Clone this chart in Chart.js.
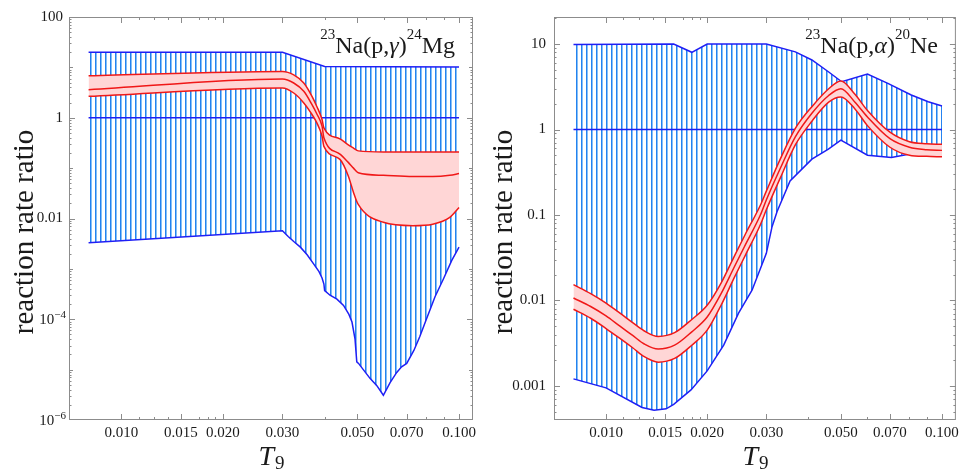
<!DOCTYPE html>
<html>
<head>
<meta charset="utf-8">
<script src="https://cdn.jsdelivr.net/npm/chart.js@4.4.1/dist/chart.umd.min.js"></script>
<style>
  html, body { margin: 0; padding: 0; background: #fff; }
  body { width: 963px; height: 470px; position: relative; overflow: hidden; }
  .panel { position: absolute; top: 0; height: 470px; }
</style>
</head>
<body>
<div class="panel" style="left:0;width:481px"><canvas id="pgChart" width="481" height="470"></canvas></div>
<div class="panel" style="left:481px;width:482px"><canvas id="paChart" width="482" height="470"></canvas></div>
<script>
// ---- 23Na(p,gamma)24Mg (left panel) ----
const pgHatchHiT = [0.008, 0.03, 0.04, 0.1];
const pgHatchHi  = [20, 20, 10.4, 10.2];
const pgHatchLoT = [0.008, 0.03, 0.0312, 0.0324, 0.0339, 0.0355, 0.0371, 0.0385, 0.0393, 0.0398, 0.04,
                    0.0415, 0.0435, 0.0455, 0.0472, 0.0482, 0.0492, 0.0498, 0.0504,
                    0.0545, 0.0571, 0.0597, 0.0625, 0.0654, 0.0676, 0.070, 0.0735, 0.0765, 0.0802,
                    0.0825, 0.0849, 0.0899, 0.0951, 0.1];
const pgHatchLo  = [0.0033, 0.0057, 0.0044, 0.0035, 0.0027, 0.0019, 0.00126, 0.00088, 0.00066, 0.0005, 0.00037,
                    0.0003, 0.00025, 0.000188, 0.000125, 0.000088, 0.000041, 0.0000143, 0.0000133,
                    0.0000067, 0.0000048, 0.0000031, 0.0000055, 0.0000088, 0.0000114, 0.0000133, 0.000024, 0.000045, 0.000103,
                    0.00017, 0.00028, 0.00063, 0.00146, 0.0027];
const pgBandT    = [0.008, 0.03, 0.0324, 0.0347, 0.0367, 0.0379, 0.0393, 0.0398, 0.0444, 0.047, 0.0487, 0.0503,
                    0.0597, 0.073, 0.0836, 0.0939, 0.1];
const pgBandHi   = [6.8, 8.3, 7.1, 4.9, 2.66, 1.69, 0.92, 0.63, 0.38, 0.29, 0.25, 0.22, 0.21, 0.21, 0.21, 0.21, 0.21];
const pgBandMid  = [3.6, 5.9, 4.9, 3.35, 1.82, 1.2, 0.68, 0.40, 0.19, 0.13, 0.10, 0.081, 0.072, 0.068, 0.068, 0.072, 0.078];
const pgBandLo   = [2.66, 3.9, 3.1, 1.97, 1.16, 0.8, 0.43, 0.27, 0.149, 0.07, 0.033, 0.019, 0.0084, 0.0072, 0.0077, 0.0105, 0.0165];
const pgYTicks   = [1e-6, 1e-4, 0.01, 1, 100];
const pgYLabels  = ['10^-6', '10^-4', '0.01', '1', '100'];

// ---- 23Na(p,alpha)20Ne (right panel) ----
const paHatchHiT = [0.008, 0.0159, 0.018, 0.020, 0.030, 0.0366, 0.041, 0.0459, 0.0503, 0.060, 0.069, 0.081, 0.091, 0.1];
const paHatchHi  = [9.9, 10, 8.0, 10, 10, 8.1, 6.5, 4.74, 3.62, 4.46, 3.47, 2.53, 2.11, 1.88];
const paHatchLoT = [0.008, 0.010, 0.0128, 0.0139, 0.0151, 0.0159, 0.0179, 0.020, 0.0224, 0.0248, 0.0272, 0.030,
                    0.0312, 0.0323, 0.0353, 0.041, 0.0459, 0.050, 0.060, 0.0707, 0.081, 0.090, 0.1];
const paHatchLo  = [0.00121, 0.00095, 0.00056, 0.00052, 0.00054, 0.00061, 0.0009, 0.0015, 0.0030, 0.0071, 0.0132, 0.0356,
                    0.073, 0.11, 0.25, 0.45, 0.59, 0.75, 0.50, 0.47, 0.52, 0.54, 0.55];
const paBandT    = [0.008, 0.009, 0.010, 0.011, 0.012, 0.013, 0.0143, 0.016, 0.018, 0.020, 0.022, 0.024, 0.026,
                    0.0288, 0.030, 0.033, 0.0366, 0.041, 0.046, 0.050, 0.055, 0.060, 0.070, 0.080, 0.090, 0.100];
const paBandHi   = [0.0153, 0.0120, 0.0093, 0.0071, 0.0055, 0.0044, 0.0038, 0.0042, 0.0060, 0.0088, 0.016, 0.032, 0.060,
                    0.13, 0.19, 0.45, 1.03, 1.85, 3.0, 3.7, 2.6, 1.67, 0.93, 0.72, 0.68, 0.67];
const paBandMid  = [0.0107, 0.0085, 0.0066, 0.0050, 0.0039, 0.0031, 0.0027, 0.0030, 0.0043, 0.0064, 0.012, 0.024, 0.045,
                    0.10, 0.15, 0.35, 0.82, 1.55, 2.5, 3.0, 2.1, 1.4, 0.78, 0.62, 0.58, 0.57];
const paBandLo   = [0.0079, 0.0062, 0.0047, 0.0036, 0.0028, 0.0022, 0.0019, 0.0021, 0.0030, 0.0045, 0.0088, 0.018, 0.034,
                    0.077, 0.115, 0.27, 0.66, 1.25, 2.09, 2.4, 1.75, 1.11, 0.62, 0.50, 0.485, 0.48];
const paYTicks   = [0.001, 0.01, 0.1, 1, 10];
const paYLabels  = ['0.001', '0.01', '0.1', '1', '10'];

// shared x axis ticks
const unitT = [0.008, 0.1];
const unitV = [1, 1];
const xTicks = [0.01, 0.015, 0.02, 0.03, 0.05, 0.07, 0.1];
const xLabels = ['0.010', '0.015', '0.020', '0.030', '0.050', '0.070', '0.100'];
const xMinorTicks = [0.01125, 0.0125, 0.01375, 0.017, 0.018, 0.019, 0.04, 0.06, 0.08, 0.09];

const SERIF = '"Liberation Serif", "Times New Roman", serif';
const BLUE = '#1f1ff5';
const RED = '#f01818';
const PINK = '#ffd6d6';
const INK = '#1a1a1a';

function pts(xs, ys) {
    return xs.map((x, i) => ({ x: x, y: ys[i] }));
}

function stripePattern() {
    const c = document.createElement('canvas');
    c.width = 5;
    c.height = 4;
    const g = c.getContext('2d');
    g.fillStyle = '#2382f0';
    g.fillRect(0, 0, 1, 4);
    g.fillStyle = '#86bff5';
    g.fillRect(1, 0, 1, 4);
    return g.createPattern(c, 'repeat');
}

// frame, inward ticks on all sides, power labels, axis titles and reaction label
const decor = {
    id: 'decor',
    afterDraw(chart, args, o) {
        const { ctx, chartArea: a } = chart;
        const xs = chart.scales.x, ys = chart.scales.y;
        ctx.save();
        ctx.strokeStyle = '#8c8c8c';
        ctx.lineWidth = 1;
        ctx.strokeRect(a.left + 0.5, a.top + 0.5, a.right - a.left - 1, a.bottom - a.top - 1);

        ctx.beginPath();
        const xTick = (v, len) => {
            const p = Math.round(xs.getPixelForValue(v)) + 0.5;
            ctx.moveTo(p, a.bottom); ctx.lineTo(p, a.bottom - len);
            ctx.moveTo(p, a.top); ctx.lineTo(p, a.top + len);
        };
        const yTick = (v, len) => {
            const p = Math.round(ys.getPixelForValue(v)) + 0.5;
            if (p < a.top || p > a.bottom) return;
            ctx.moveTo(a.left, p); ctx.lineTo(a.left + len, p);
            ctx.moveTo(a.right, p); ctx.lineTo(a.right - len, p);
        };
        xTicks.forEach(v => xTick(v, 6));
        xMinorTicks.forEach(v => xTick(v, 3));
        for (let e = -7; e <= 2; e++) {
            const dec = Math.pow(10, e);
            if (dec >= ys.min && dec <= ys.max) yTick(dec, o.yMajor.includes(dec) ? 6 : 4);
            for (let m = 2; m <= 9; m++) {
                const v = m * dec;
                if (v > ys.min && v < ys.max) yTick(v, 2.5);
            }
        }
        ctx.stroke();

        ctx.fillStyle = INK;
        ctx.textBaseline = 'alphabetic';

        // y labels written as powers of ten
        o.yMajor.forEach((v, i) => {
            const lab = o.yLabels[i];
            if (lab.indexOf('^') < 0) return;
            const [base, exp] = lab.split('^');
            const py = ys.getPixelForValue(v);
            ctx.font = '11px ' + SERIF;
            const expTxt = exp.replace('-', '\u2212');
            const we = ctx.measureText(expTxt).width;
            ctx.font = '15px ' + SERIF;
            const wb = ctx.measureText(base).width;
            const right = a.left - 3;
            ctx.fillText(base, right - we - wb, py + 5);
            ctx.font = '11px ' + SERIF;
            ctx.fillText(expTxt, right - we, py - 1);
        });

        // y title
        ctx.font = '29px ' + SERIF;
        ctx.save();
        ctx.translate(o.yTitleX, 232);
        ctx.rotate(-Math.PI / 2);
        ctx.textAlign = 'center';
        ctx.fillText('reaction rate ratio', 0, 0);
        ctx.restore();

        // x title T9
        ctx.font = 'italic 28px ' + SERIF;
        const wT = ctx.measureText('T').width;
        ctx.font = '19px ' + SERIF;
        const w9 = ctx.measureText('9').width;
        const cx = (a.left + a.right) / 2 - (wT + w9) / 2;
        ctx.font = 'italic 28px ' + SERIF;
        ctx.fillText('T', cx, 465);
        ctx.font = '19px ' + SERIF;
        ctx.fillText('9', cx + wT + 1, 469);

        // reaction label
        let total = 0;
        o.label.forEach(p => {
            ctx.font = (p.it ? 'italic ' : '') + p.s + 'px ' + SERIF;
            p.w = ctx.measureText(p.t).width;
            total += p.w;
        });
        let lx = a.right - 18 - total;
        o.label.forEach(p => {
            ctx.font = (p.it ? 'italic ' : '') + p.s + 'px ' + SERIF;
            ctx.fillText(p.t, lx, 53 + (p.dy || 0));
            lx += p.w;
        });
        ctx.restore();
    }
};

function makeChart(id, cfg) {
    const hatch = stripePattern();
    const lineBase = { pointRadius: 0, borderWidth: 1.5, tension: 0 };
    return new Chart(document.getElementById(id), {
        type: 'line',
        data: {
            datasets: [
                Object.assign({}, lineBase, { label: 'central', data: pts(cfg.bandT, cfg.bandMid), borderColor: RED, cubicInterpolationMode: 'monotone', fill: false }),
                Object.assign({}, lineBase, { label: 'high', data: pts(cfg.bandT, cfg.bandHi), borderColor: RED, cubicInterpolationMode: 'monotone', fill: false }),
                Object.assign({}, lineBase, { label: 'low', data: pts(cfg.bandT, cfg.bandLo), borderColor: RED, cubicInterpolationMode: 'monotone', fill: 1, backgroundColor: PINK }),
                Object.assign({}, lineBase, { label: 'unity', data: pts(unitT, unitV), borderColor: BLUE, fill: false }),
                Object.assign({}, lineBase, { label: 'range high', data: pts(cfg.hatchHiT, cfg.hatchHi), borderColor: BLUE, fill: false }),
                Object.assign({}, lineBase, { label: 'range low', data: pts(cfg.hatchLoT, cfg.hatchLo), borderColor: BLUE, fill: 4, backgroundColor: hatch })
            ]
        },
        options: {
            responsive: false,
            animation: false,
            events: [],
            layout: { padding: { top: 17, right: cfg.padRight, bottom: 0, left: 0 } },
            plugins: {
                legend: { display: false },
                tooltip: { enabled: false },
                decor: { yMajor: cfg.yTicks, yLabels: cfg.yLabels, yTitleX: cfg.yTitleX, label: cfg.label }
            },
            scales: {
                x: {
                    type: 'logarithmic',
                    min: 0.007,
                    max: 0.11,
                    grid: { display: false, drawTicks: false },
                    border: { display: false },
                    afterBuildTicks: s => { s.ticks = xTicks.map(v => ({ value: v })); },
                    afterFit: s => { s.height = 50; },
                    ticks: {
                        autoSkip: false,
                        maxRotation: 0,
                        padding: 4,
                        color: INK,
                        font: { family: SERIF, size: 15 },
                        callback: (v, i) => xLabels[i]
                    }
                },
                y: {
                    type: 'logarithmic',
                    min: cfg.yMin,
                    max: cfg.yMax,
                    grid: { display: false, drawTicks: false },
                    border: { display: false },
                    afterBuildTicks: s => { s.ticks = cfg.yTicks.map(v => ({ value: v })); },
                    afterFit: s => { s.width = cfg.yWidth; },
                    ticks: {
                        autoSkip: false,
                        padding: cfg.yPad,
                        color: INK,
                        font: { family: SERIF, size: 15 },
                        // powers of ten are drawn by the decor plugin with a raised exponent
                        callback: (v, i) => cfg.yLabels[i].indexOf('^') < 0 ? cfg.yLabels[i] : ''
                    }
                }
            }
        },
        plugins: [decor]
    });
}

makeChart('pgChart', {
    bandT: pgBandT, bandHi: pgBandHi, bandMid: pgBandMid, bandLo: pgBandLo,
    hatchHiT: pgHatchHiT, hatchHi: pgHatchHi, hatchLoT: pgHatchLoT, hatchLo: pgHatchLo,
    yTicks: pgYTicks, yLabels: pgYLabels, yMin: 1e-6, yMax: 100,
    yWidth: 69, yPad: 6, padRight: 8, yTitleX: 33,
    label: [
        { t: '23', s: 15, dy: -14 }, { t: 'Na(p,', s: 24 }, { t: '\u03B3', s: 24, it: true },
        { t: ')', s: 24 }, { t: '24', s: 15, dy: -14 }, { t: 'Mg', s: 24 }
    ]
});

makeChart('paChart', {
    bandT: paBandT, bandHi: paBandHi, bandMid: paBandMid, bandLo: paBandLo,
    hatchHiT: paHatchHiT, hatchHi: paHatchHi, hatchLoT: paHatchLoT, hatchLo: paHatchLo,
    yTicks: paYTicks, yLabels: paYLabels, yMin: 0.0004, yMax: 20.7,
    yWidth: 73, yPad: 8, padRight: 4, yTitleX: 31,
    label: [
        { t: '23', s: 15, dy: -14 }, { t: 'Na(p,', s: 24 }, { t: '\u03B1', s: 24, it: true },
        { t: ')', s: 24 }, { t: '20', s: 15, dy: -14 }, { t: 'Ne', s: 24 }
    ]
});
</script>
</body>
</html>
